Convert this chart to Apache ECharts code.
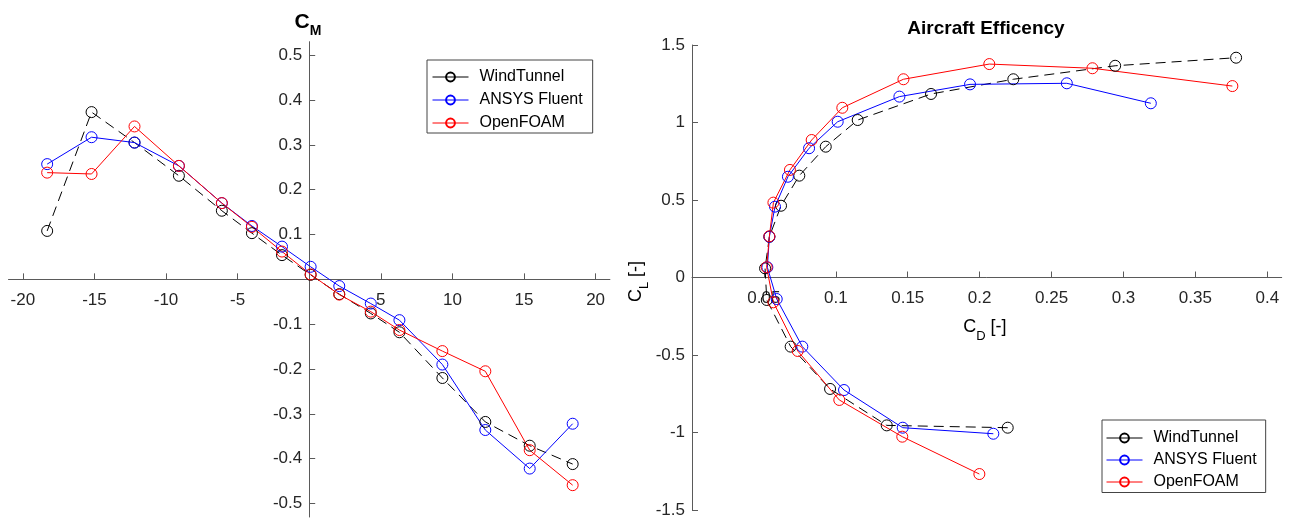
<!DOCTYPE html>
<html><head><meta charset="utf-8">
<script src="https://cdn.jsdelivr.net/npm/echarts@6/dist/echarts.min.js"></script>
<style>html,body{margin:0;padding:0;background:#fff}#c{width:1293px;height:522px}</style>
</head><body><div id="c"></div>
<script>
// ---- data ----
const seriesNames = ['WindTunnel', 'ANSYS Fluent', 'OpenFOAM'];
const alpha = [-18.3, -15.2, -12.2, -9.1, -6.1, -4.0, -1.9, 0.1, 2.1, 4.3, 6.3, 9.3, 12.3, 15.4, 18.4];
const cmWindTunnel = [0.108, 0.373, 0.305, 0.231, 0.153, 0.103, 0.054, 0.010, -0.033, -0.076, -0.118, -0.220, -0.318, -0.371, -0.412];
const cmFluent = [0.257, 0.317, 0.305, 0.253, 0.170, 0.119, 0.073, 0.028, -0.015, -0.054, -0.091, -0.190, -0.336, -0.422, -0.322];
const cmFoam = [0.238, 0.235, 0.341, 0.253, 0.170, 0.117, 0.062, 0.011, -0.034, -0.072, -0.113, -0.160, -0.205, -0.381, -0.459];
const cdWindTunnel = [0.2195, 0.1354, 0.0960, 0.0686, 0.0520, 0.0508, 0.0538, 0.0619, 0.0746, 0.0930, 0.1152, 0.1662, 0.2234, 0.2942, 0.3783];
const clWindTunnel = [-0.969, -0.954, -0.719, -0.446, -0.145, 0.059, 0.263, 0.463, 0.657, 0.844, 1.016, 1.184, 1.279, 1.366, 1.418];
const cdFluent = [0.2095, 0.1465, 0.1057, 0.0767, 0.0589, 0.0524, 0.0538, 0.0577, 0.0667, 0.0814, 0.1013, 0.1442, 0.1933, 0.2606, 0.3190];
const clFluent = [-1.008, -0.969, -0.726, -0.446, -0.139, 0.066, 0.263, 0.457, 0.650, 0.834, 1.005, 1.167, 1.246, 1.253, 1.124];
const cdFoam = [0.1998, 0.1462, 0.1024, 0.0735, 0.0566, 0.0519, 0.0538, 0.0566, 0.0681, 0.0832, 0.1045, 0.1470, 0.2067, 0.2784, 0.3757];
const clFoam = [-1.268, -1.027, -0.790, -0.474, -0.160, 0.066, 0.266, 0.483, 0.694, 0.887, 1.095, 1.279, 1.377, 1.350, 1.235];

// ---- ticks ----
const alphaTicks = [-20, -15, -10, -5, 0, 5, 10, 15, 20];
const alphaTickLabels = [-20, -15, -10, -5, 5, 10, 15, 20];
const cmTicks = [-0.5, -0.4, -0.3, -0.2, -0.1, 0, 0.1, 0.2, 0.3, 0.4, 0.5];
const cmTickLabels = [-0.5, -0.4, -0.3, -0.2, -0.1, 0.1, 0.2, 0.3, 0.4, 0.5];
const cdTicks = [0, 0.05, 0.1, 0.15, 0.2, 0.25, 0.3, 0.35, 0.4];
const cdTickLabels = [0.05, 0.1, 0.15, 0.2, 0.25, 0.3, 0.35, 0.4];
const clTicks = [-1.5, -1, -0.5, 0, 0.5, 1, 1.5];
const clTickLabels = [-1.5, -1, -0.5, 0, 0.5, 1, 1.5];

const FONT = "'Liberation Sans', Arial, Helvetica, sans-serif";
const colors = ['#000000', '#0000ff', '#ff0000'];
const AXC = '#5a5a5a';
const TXT = '#262626';

// grid geometry (pixels)
const G0 = { left: 8.5, width: 601.4, top: 41.7, height: 475.3 };
const G1 = { left: 692, width: 589.7, top: 45, height: 465 };
const X0 = [-21, 21], Y0 = [-0.53, 0.53];
const X1 = [0, 0.41], Y1 = [-1.5, 1.5];
// offsets so that each axis crosses the other at zero
const y0ZeroOff = -(G0.height * (0 - Y0[0]) / (Y0[1] - Y0[0]));
const x0ZeroOff = -(G0.width * (0 - X0[0]) / (X0[1] - X0[0]));
const y1ZeroOff = -(G1.height * (0 - Y1[0]) / (Y1[1] - Y1[0]));

function axis(idx, range, ticks, labels, margin, extra) {
  return Object.assign({
    type: 'value', gridIndex: idx, min: range[0], max: range[1],
    axisLine: { show: true, onZero: false, lineStyle: { color: AXC, width: 1 } },
    axisTick: { show: true, inside: true, length: 6, customValues: ticks, lineStyle: { color: AXC } },
    axisLabel: { show: true, customValues: labels, margin: margin, color: TXT, fontSize: 17, fontFamily: FONT },
    splitLine: { show: false }
  }, extra || {});
}

function mkSeries(name, i, xs, ys, gi) {
  return {
    name: name, type: 'line', xAxisIndex: gi, yAxisIndex: gi,
    data: xs.map((x, k) => [x, ys[k]]),
    symbol: 'circle', symbolSize: 11,
    itemStyle: { color: 'rgba(0,0,0,0)', borderColor: colors[i], borderWidth: 1 },
    lineStyle: { color: colors[i], width: 1, type: i === 0 ? [10, 6] : 'solid' },
    emphasis: { disabled: true },
    animation: false
  };
}

const subRich = function (big, small) {
  return {
    c: { fontSize: big, fontFamily: FONT, color: '#000' },
    s: { fontSize: small, fontFamily: FONT, color: '#000', padding: [17, 0, 0, 0] },
    n: { fontSize: big, fontFamily: FONT, color: '#000' }
  };
};

const legendBase = {
  orient: 'vertical', itemWidth: 36, itemHeight: 11,
  backgroundColor: '#fff', borderColor: '#444', borderWidth: 1,
  lineStyle: { type: 'solid', width: 1 },
  textStyle: { fontSize: 16, fontFamily: FONT, color: '#000', padding: [0, 0, 0, 6] },
  data: seriesNames
};

const option = {
  animation: false,
  grid: [
    Object.assign({ outerBoundsMode: 'none', containLabel: false }, G0),
    Object.assign({ outerBoundsMode: 'none', containLabel: false }, G1)
  ],
  xAxis: [
    axis(0, X0, alphaTicks, alphaTickLabels, 12, { position: 'bottom', offset: y0ZeroOff }),
    axis(1, X1, cdTicks, cdTickLabels, 12, {
      position: 'bottom', offset: y1ZeroOff,
      name: '{c|C}{s|D}{n| [-]}', nameLocation: 'middle', nameGap: 35, nameMoveOverlap: false,
      nameTextStyle: { rich: subRich(18, 13), padding: [0, 4, 0, 0] }
    })
  ],
  yAxis: [
    axis(0, Y0, cmTicks, cmTickLabels, 7, { position: 'left', offset: x0ZeroOff }),
    axis(1, Y1, clTicks, clTickLabels, 7, {
      position: 'left',
      name: '{c|C}{s|L}{n| [-]}', nameLocation: 'middle', nameGap: 41, nameMoveOverlap: false,
      nameTextStyle: { rich: subRich(18, 13), padding: [0, 8, 0, 0] }
    })
  ],
  legend: [
    Object.assign({}, legendBase, { left: 427, top: 60, itemGap: 7, padding: [9, 10, 2, 5] }),
    Object.assign({}, legendBase, { left: 1102, top: 420, itemGap: 6, padding: [10, 9, 2.5, 4] })
  ],
  graphic: [
    { type: 'text', x: 308, y: 6, style: {
        text: '{c|C}{s|M}', align: 'center',
        rich: {
          c: { fontSize: 21, fontWeight: 'bold', fontFamily: FONT, fill: '#000' },
          s: { fontSize: 14, fontWeight: 'bold', fontFamily: FONT, fill: '#000', padding: [18, 0, 0, 0] }
        } } },
    { type: 'text', x: 986, y: 19, style: {
        text: 'Aircraft Efficency', align: 'center',
        fontSize: 19, fontWeight: 'bold', fontFamily: FONT, fill: '#000' } }
  ],
  series: [
    mkSeries(seriesNames[0], 0, alpha, cmWindTunnel, 0),
    mkSeries(seriesNames[1], 1, alpha, cmFluent, 0),
    mkSeries(seriesNames[2], 2, alpha, cmFoam, 0),
    mkSeries(seriesNames[0], 0, cdWindTunnel, clWindTunnel, 1),
    mkSeries(seriesNames[1], 1, cdFluent, clFluent, 1),
    mkSeries(seriesNames[2], 2, cdFoam, clFoam, 1)
  ]
};

const chart = echarts.init(document.getElementById('c'), null, { renderer: 'canvas' });
chart.setOption(option);
</script>
</body></html>
